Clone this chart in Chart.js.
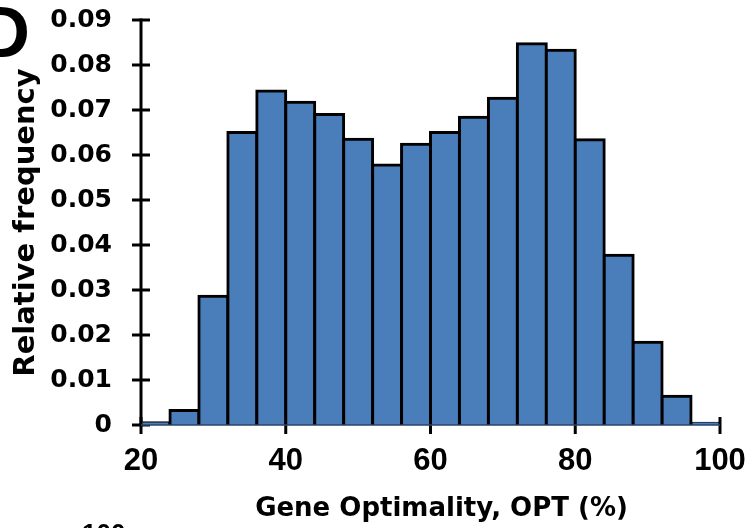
<!DOCTYPE html>
<html>
<head>
<meta charset="utf-8">
<script src="https://cdn.jsdelivr.net/npm/chart.js@4/dist/chart.umd.min.js"></script>
<style>
  html, body { margin: 0; padding: 0; background: #ffffff; }
  #wrap { width: 754px; height: 528px; position: relative; }
</style>
</head>
<body>
<div id="wrap"><canvas id="c" width="754" height="528"></canvas></div>
<script>
// ---- data ----
const binCenters = [22, 26, 30, 34, 38, 42, 46, 50, 54, 58, 62, 66, 70, 74, 78, 82, 86, 90, 94, 98];
const relFreq = [0.0005, 0.0032, 0.0286, 0.0650, 0.0742, 0.0717, 0.0690, 0.0635, 0.0578, 0.0624,
                 0.0650, 0.0684, 0.0726, 0.0847, 0.0833, 0.0634, 0.0377, 0.0184, 0.0064, 0.0004];
const xTickValues = [20, 40, 60, 80, 100];
const xTickLabels = ['20', '40', '60', '80', '100'];
const yTickValues = [0, 0.01, 0.02, 0.03, 0.04, 0.05, 0.06, 0.07, 0.08, 0.09];
const yTickLabels = ['0', '0.01', '0.02', '0.03', '0.04', '0.05', '0.06', '0.07', '0.08', '0.09'];
const xTitle = 'Gene Optimality, OPT (%)';
const yTitle = 'Relative frequency';
const panelLabel = 'D';
const nextPanelText = '100';

const points = binCenters.map((x, i) => ({ x: x, y: relFreq[i] }));

const axisPlugin = {
  id: 'axisDecor',
  beforeDatasetsDraw(chart) {
    const ctx = chart.ctx;
    const xs = chart.scales.x, ys = chart.scales.y;
    const y0 = ys.getPixelForValue(0);
    const x0 = xs.getPixelForValue(20);
    ctx.save();
    ctx.strokeStyle = '#000';
    ctx.lineWidth = 3;
    yTickValues.forEach(v => {
      const py = ys.getPixelForValue(v);
      ctx.beginPath(); ctx.moveTo(x0 - 9, py); ctx.lineTo(x0 + 9, py); ctx.stroke();
    });
    xTickValues.forEach(v => {
      const px = xs.getPixelForValue(v);
      ctx.beginPath(); ctx.moveTo(px, y0 - 8); ctx.lineTo(px, y0 + 9); ctx.stroke();
    });
    ctx.beginPath();
    ctx.moveTo(x0, ys.getPixelForValue(0.09) - 1.5);
    ctx.lineTo(x0, y0 + 1);
    ctx.stroke();
    ctx.restore();
  },
  afterDatasetsDraw(chart) {
    const ctx = chart.ctx;
    const xs = chart.scales.x, ys = chart.scales.y;
    const y0 = ys.getPixelForValue(0);
    ctx.save();
    ctx.strokeStyle = '#2a4468';
    ctx.lineWidth = 1.5;
    ctx.beginPath();
    ctx.moveTo(xs.getPixelForValue(20), y0);
    ctx.lineTo(xs.getPixelForValue(100), y0);
    ctx.stroke();
    ctx.fillStyle = '#000';
    ctx.textBaseline = 'alphabetic';
    // x axis title, centred slightly right of the plot centre as in the reference
    ctx.textAlign = 'center';
    ctx.font = 'bold 26px "DejaVu Sans", sans-serif';
    ctx.fillText(xTitle, (xs.left + xs.right) / 2 + 11, 515.5);
    ctx.textAlign = 'left';
    ctx.font = 'bold 72px "Liberation Sans", Arial, sans-serif';
    ctx.fillText(panelLabel, -22, 56.5);
    ctx.font = 'bold 26px "Liberation Sans", Arial, sans-serif';
    ctx.fillText(nextPanelText, 82, 541.5);
    ctx.restore();
  }
};

new Chart(document.getElementById('c'), {
  type: 'bar',
  data: {
    datasets: [{
      data: points,
      backgroundColor: '#4a7ebb',
      borderColor: '#000000',
      borderWidth: 3,
      borderSkipped: 'bottom',
      inflateAmount: 1.5,
      barPercentage: 1.0,
      categoryPercentage: 1.0
    }]
  },
  plugins: [axisPlugin],
  options: {
    responsive: false,
    animation: false,
    devicePixelRatio: 1,
    layout: { padding: { left: 0, top: 20, right: 34, bottom: 0 } },
    plugins: { legend: { display: false }, tooltip: { enabled: false } },
    scales: {
      x: {
        type: 'linear',
        offset: false,
        min: 20, max: 100,
        afterFit: s => { s.height = 103; s.paddingLeft = 0; s.paddingRight = 0; },
        afterBuildTicks: s => { s.ticks = xTickValues.map(v => ({ value: v })); },
        grid: { display: false, drawTicks: false, offset: false },
        border: { display: false },
        ticks: {
          color: '#000',
          padding: 18,
          maxRotation: 0,
          autoSkip: false,
          font: { family: '"Liberation Sans", Arial, sans-serif', size: 31, weight: 'bold' },
          callback: (v) => xTickLabels[xTickValues.indexOf(v)]
        },
        title: { display: false, text: xTitle }
      },
      y: {
        min: 0, max: 0.09,
        afterFit: s => { s.width = 141; s.paddingTop = 0; s.paddingBottom = 0; },
        afterBuildTicks: s => { s.ticks = yTickValues.map(v => ({ value: v })); },
        grid: { display: false, drawTicks: false },
        border: { display: false },
        ticks: {
          color: '#000',
          padding: 29,
          autoSkip: false,
          font: { family: '"DejaVu Sans", sans-serif', size: 25, weight: 'bold' },
          callback: (v, i) => yTickLabels[i]
        },
        title: {
          display: true,
          text: yTitle,
          color: '#000',
          padding: { top: 9, bottom: 0 },
          font: { family: '"DejaVu Sans", sans-serif', size: 29, weight: 'bold' }
        }
      }
    }
  }
});
</script>
</body>
</html>
